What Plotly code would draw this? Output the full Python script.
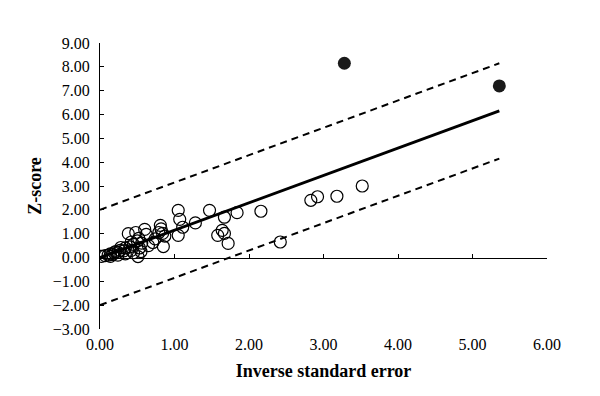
import plotly.graph_objects as go

# Open-circle studies (inverse standard error, Z-score)
open_x = [0.02, 0.07, 0.11, 0.14, 0.17, 0.19, 0.21, 0.24, 0.27, 0.28, 0.32, 0.34,
          0.38, 0.40, 0.42, 0.45, 0.48, 0.51, 0.50, 0.52, 0.55, 0.56, 0.60, 0.62,
          0.65, 0.71, 0.74, 0.79, 0.81, 0.82, 0.85, 0.87, 0.14, 0.24, 0.34, 0.45,
          0.53, 0.42, 0.84,
          1.05, 1.07, 1.11, 1.05, 1.28, 1.47, 1.67, 1.84, 2.16, 1.58, 1.64, 1.67,
          1.72, 2.42, 2.83, 2.92, 3.18, 3.52]
open_y = [0.05, 0.08, 0.10, 0.15, 0.12, 0.20, 0.25, 0.22, 0.30, 0.42, 0.28, 0.40,
          1.00, 0.45, 0.30, 0.55, 1.05, 0.04, 0.70, 0.80, 0.25, 0.60, 1.18, 0.97,
          0.50, 0.63, 0.78, 1.05, 1.35, 1.20, 0.46, 0.90, 0.05, 0.10, 0.15, 0.20,
          0.40, 0.65, 1.01,
          1.98, 1.60, 1.27, 0.93, 1.45, 1.98, 1.69, 1.88, 1.94, 0.93, 1.14, 1.01,
          0.59, 0.65, 2.40, 2.55, 2.57, 3.00]

# Outlying studies (filled)
out_x = [3.28, 5.36]
out_y = [8.15, 7.20]

# Regression line and +/-2 limits
line_x = [0.0, 5.36]
fit_y = [0.0, 6.15]
upper_y = [2.0, 8.15]
lower_y = [-2.0, 4.15]

x_ticks = [0, 1, 2, 3, 4, 5, 6]
y_ticks = [-3, -2, -1, 0, 1, 2, 3, 4, 5, 6, 7, 8, 9]

FONT = "Liberation Serif"

fig = go.Figure()
fig.add_trace(go.Scatter(x=line_x, y=upper_y, mode="lines",
                         line=dict(color="black", width=2, dash="7px,5px"),
                         showlegend=False, hoverinfo="skip"))
fig.add_trace(go.Scatter(x=line_x, y=lower_y, mode="lines",
                         line=dict(color="black", width=2, dash="7px,5px"),
                         showlegend=False, hoverinfo="skip"))
fig.add_trace(go.Scatter(x=line_x, y=fit_y, mode="lines",
                         line=dict(color="black", width=3),
                         showlegend=False, hoverinfo="skip"))
fig.add_trace(go.Scatter(x=open_x, y=open_y, mode="markers",
                         marker=dict(symbol="circle-open", size=12, color="black",
                                     line=dict(width=1.2, color="black")),
                         showlegend=False))
fig.add_trace(go.Scatter(x=out_x, y=out_y, mode="markers",
                         marker=dict(symbol="circle", size=13, color="#1a1a1a"),
                         showlegend=False))
# invisible trace to host the axis drawn at y = 0
fig.add_trace(go.Scatter(x=[0], y=[0], xaxis="x2", mode="markers",
                         marker=dict(opacity=0), showlegend=False, hoverinfo="skip"))

fig.update_layout(
    width=600, height=396,
    margin=dict(l=92, r=61, t=35, b=75),
    paper_bgcolor="white", plot_bgcolor="white",
    font=dict(family=FONT, size=16, color="black"),
    xaxis=dict(range=[0, 6], tickvals=x_ticks, tickformat=".2f",
               showline=False, showgrid=False, zeroline=False, ticks="",
               tickfont=dict(size=16), ticklabelstandoff=4,
               title=dict(text="<b>Inverse standard error</b>",
                          font=dict(size=18), standoff=12)),
    xaxis2=dict(range=[0, 6], overlaying="x", anchor="free", position=0.25,
                tickvals=x_ticks, showticklabels=False, showline=True,
                linecolor="black", linewidth=1, ticks="inside", ticklen=4,
                tickcolor="black", showgrid=False, zeroline=False),
    yaxis=dict(range=[-3, 9], tickvals=y_ticks, tickformat=".2f",
               showline=True, linecolor="black", linewidth=1,
               ticks="inside", ticklen=4, tickcolor="black",
               showgrid=False, zeroline=False, tickfont=dict(size=16),
               ticklabelstandoff=6,
               title=dict(text="<b>Z-score</b>", font=dict(size=18), standoff=6)),
)

fig.write_html("out.html")
